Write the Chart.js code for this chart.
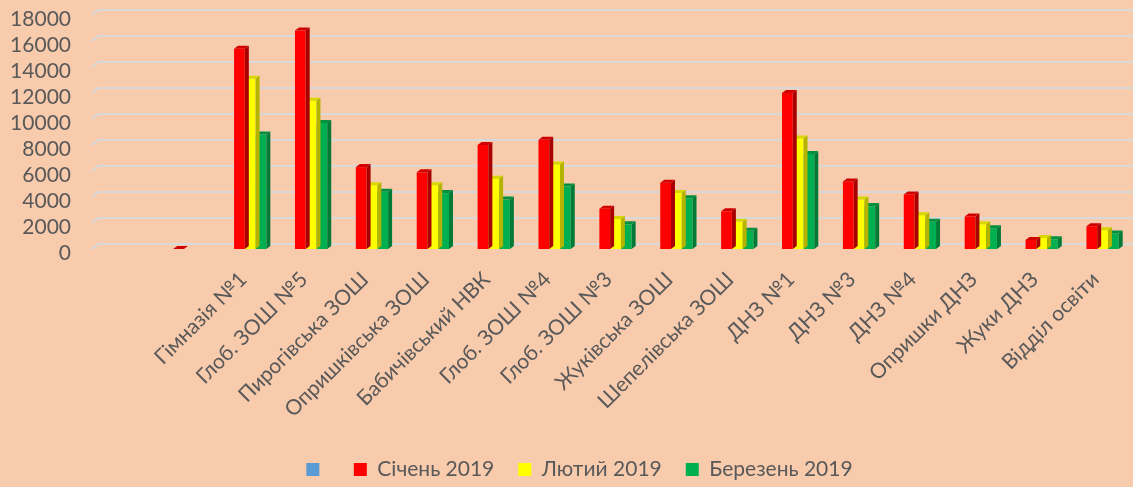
<!DOCTYPE html>
<html><head><meta charset="utf-8">
<script src="https://cdn.jsdelivr.net/npm/chart.js@4"></script>
<style>html,body{margin:0;padding:0;background:#F8CBAD;overflow:hidden}#wrap{width:1133px;height:490px;position:relative}</style>
</head><body><div id="wrap"><canvas id="c"></canvas></div>
<script>
const categories = ["", "", "Гімназія №1", "Глоб. ЗОШ №5", "Пирогівська ЗОШ", "Опришківська ЗОШ", "Бабичівський НВК", "Глоб. ЗОШ №4", "Глоб. ЗОШ №3", "Жуківська ЗОШ", "Шепелівська ЗОШ", "ДНЗ №1", "ДНЗ №3", "ДНЗ №4", "Опришки ДНЗ", "Жуки ДНЗ", "Відділ освіти"];
const seriesNames = ["", "Січень 2019", "Лютий 2019", "Березень 2019"];
const blankSeries = [null, null, null, null, null, null, null, null, null, null, null, null, null, null, null, null, null];
const january  = [null, 0, 15400, 16800, 6300, 5900, 8000, 8400, 3100, 5100, 2900, 12000, 5200, 4200, 2500, 700, 1750];
const february = [null, null, 13100, 11400, 4900, 4900, 5400, 6500, 2300, 4300, 2100, 8500, 3800, 2600, 1900, 850, 1450];
const march    = [null, null, 8800, 9700, 4400, 4300, 3800, 4800, 1900, 3900, 1400, 7300, 3300, 2100, 1600, 750, 1200];
const yMin = 0, yMax = 18000, yStep = 2000;

const FONT = "Lato, 'Open Sans', sans-serif";
const TXT = '#595959';
const DX = 4, DY = 3;

const bar3d = {
  id: 'bar3d',
  afterLayout(chart) {
    if (chart.legend) { chart.legend.left += 13; chart.legend.right += 13; }
  },
  beforeDatasetsDraw(chart) {
    const {ctx, chartArea, scales} = chart;
    const ys = scales.y;
    ctx.save();
    ctx.strokeStyle = '#D9D9D9';
    ctx.lineWidth = 2;
    ys.ticks.forEach(t => {
      const y = ys.getPixelForValue(t.value);
      ctx.beginPath();
      ctx.moveTo(chartArea.left - 6, y);
      ctx.lineTo(chartArea.left, y - 5);
      ctx.lineTo(chartArea.right, y - 5);
      ctx.stroke();
    });
    ctx.restore();
  },
  afterDatasetDraw(chart, args) {
    const ds = chart.data.datasets[args.index];
    if (!ds.sideColor) return;
    const ctx = chart.ctx;
    ctx.save();
    args.meta.data.forEach((bar, i) => {
      if (ds.data[i] === null || ds.data[i] === undefined) return;
      const p = bar.getProps(['x', 'y', 'base', 'width'], true);
      const l = p.x - p.width / 2, r = p.x + p.width / 2, t = p.y, b = p.base;
      ctx.fillStyle = ds.topColor;
      ctx.beginPath();
      ctx.moveTo(l, t); ctx.lineTo(r, t); ctx.lineTo(r + DX, t - DY); ctx.lineTo(l + DX, t - DY);
      ctx.closePath(); ctx.fill();
      ctx.fillStyle = ds.sideColor;
      ctx.beginPath();
      ctx.moveTo(r, t); ctx.lineTo(r + DX, t - DY); ctx.lineTo(r + DX, b - DY); ctx.lineTo(r, b);
      ctx.closePath(); ctx.fill();
    });
    ctx.restore();
  }
};

new Chart(document.getElementById('c'), {
  data: {
    labels: categories,
    datasets: [
      {type: 'line', label: seriesNames[0], data: blankSeries, backgroundColor: '#5B9BD5', borderColor: '#5B9BD5', borderWidth: 0, pointRadius: 0, showLine: false},
      {type: 'bar', label: seriesNames[1], data: january, backgroundColor: '#FF0000', topColor: '#D00000', sideColor: '#A80000'},
      {type: 'bar', label: seriesNames[2], data: february, backgroundColor: '#FFFF00', topColor: '#D8D800', sideColor: '#B4B400'},
      {type: 'bar', label: seriesNames[3], data: march, backgroundColor: '#00B050', topColor: '#009040', sideColor: '#007A36'}
    ]
  },
  options: {
    responsive: true,
    maintainAspectRatio: false,
    animation: false,
    events: [],
    layout: {padding: {left: 0, right: 0, top: 15, bottom: 0}},
    datasets: {bar: {categoryPercentage: 0.53, barPercentage: 1.0, borderWidth: 0}},
    scales: {
      x: {
        grid: {display: false, drawTicks: false},
        border: {display: false},
        ticks: {autoSkip: false, maxRotation: 45, minRotation: 45, color: TXT, font: {family: FONT, size: 21}, padding: 18, labelOffset: -7},
        afterFit(s) { s.height = 186; s.paddingLeft = 0; s.paddingRight = 0; }
      },
      y: {
        min: yMin, max: yMax,
        grid: {display: false, drawTicks: false},
        border: {display: false},
        ticks: {stepSize: yStep, color: TXT, font: {family: FONT, size: 21, lineHeight: 1}, padding: 27, labelOffset: 4, callback: v => String(v)},
        afterFit(s) { s.width = 98; s.paddingTop = 0; s.paddingBottom = 0; }
      }
    },
    plugins: {
      tooltip: {enabled: false},
      legend: {
        position: 'bottom',
        labels: {color: TXT, font: {family: FONT, size: 21}, boxWidth: 13, boxHeight: 13, padding: 24}
      }
    }
  },
  plugins: [bar3d]
});
</script>
</body></html>
